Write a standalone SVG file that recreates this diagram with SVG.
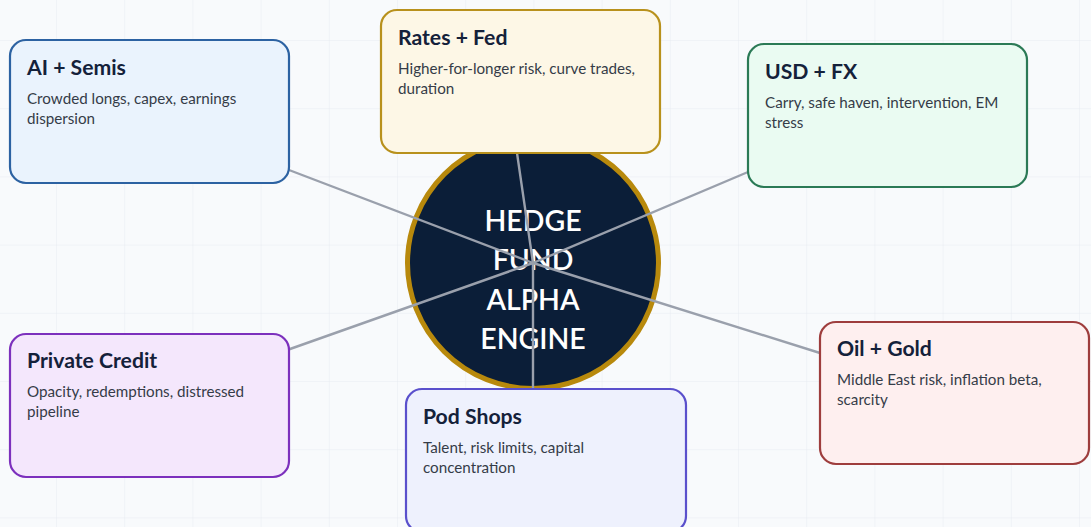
<svg xmlns="http://www.w3.org/2000/svg" width="1091" height="527" viewBox="0 0 1091 527">
  <defs>
    <pattern id="grid" x="-12.2" y="-28.2" width="68.2" height="68.2" patternUnits="userSpaceOnUse">
      <path d="M 0 0 H 68.2 M 0 0 V 68.2" fill="none" stroke="#e7ebf1" stroke-width="1"/>
    </pattern>
  </defs>
  <style>
    .card { stroke-width: 2.2; }
    .title { font-family: Lato, "Open Sans", sans-serif; font-weight: 700; font-size: 21.2px; fill: #14213a; }
    .desc { font-family: Lato, "Open Sans", sans-serif; font-size: 15.2px; fill: #353c48; }
    .hub-text { font-family: Lato, "Open Sans", sans-serif; font-weight: 600; font-size: 28.5px; fill: #ffffff; text-anchor: middle; }
    .link { stroke: #9aa0ac; stroke-width: 2.4; fill: none; stroke-linecap: round; }
  </style>

  <!-- canvas -->
  <rect width="1091" height="527" fill="#f8fafc"/>
  <rect width="1091" height="527" fill="url(#grid)"/>

  <!-- hub -->
  <g id="hub">
    <circle cx="533" cy="263" r="125.5" fill="#0b1e38" stroke="#b8890c" stroke-width="5"/>
    <text class="hub-text" x="533" y="231">HEDGE</text>
    <text class="hub-text" x="533" y="270">FUND</text>
    <text class="hub-text" x="533" y="310">ALPHA</text>
    <text class="hub-text" x="533" y="349">ENGINE</text>
  </g>

  <!-- spokes -->
  <g id="connectors">
    <line class="link" x1="533" y1="263" x2="289" y2="170"/>
    <line class="link" x1="533" y1="263" x2="517" y2="153"/>
    <line class="link" x1="533" y1="263" x2="748" y2="172"/>
    <line class="link" x1="533" y1="263" x2="820" y2="353"/>
    <line class="link" x1="533" y1="263" x2="290" y2="349"/>
    <line class="link" x1="533" y1="263" x2="533" y2="390"/>
  </g>

  <g id="ai-semis">
    <rect class="card" x="10" y="40" width="279" height="143" rx="16" fill="#eaf3fd" stroke="#2c62a2"/>
    <text class="title" x="27" y="75">AI + Semis</text>
    <text class="desc" x="27" y="104">Crowded longs, capex, earnings</text>
    <text class="desc" x="27" y="123.5">dispersion</text>
  </g>

  <g id="rates-fed">
    <rect class="card" x="381" y="10" width="279" height="143" rx="16" fill="#fdf7e6" stroke="#b8911c"/>
    <text class="title" x="398" y="45">Rates + Fed</text>
    <text class="desc" x="398" y="74">Higher-for-longer risk, curve trades,</text>
    <text class="desc" x="398" y="93.5">duration</text>
  </g>

  <g id="usd-fx">
    <rect class="card" x="748" y="44" width="279" height="143" rx="16" fill="#eafbf2" stroke="#2b7a56"/>
    <text class="title" x="765" y="79">USD + FX</text>
    <text class="desc" x="765" y="108">Carry, safe haven, intervention, EM</text>
    <text class="desc" x="765" y="127.5">stress</text>
  </g>

  <g id="oil-gold">
    <rect class="card" x="820" y="322" width="269" height="142" rx="16" fill="#feefef" stroke="#9e3d3d"/>
    <text class="title" x="837" y="356">Oil + Gold</text>
    <text class="desc" x="837" y="385">Middle East risk, inflation beta,</text>
    <text class="desc" x="837" y="404.5">scarcity</text>
  </g>

  <g id="private-credit">
    <rect class="card" x="10" y="334" width="279" height="143" rx="16" fill="#f4e7fc" stroke="#7c30bd"/>
    <text class="title" x="27" y="368">Private Credit</text>
    <text class="desc" x="27" y="397">Opacity, redemptions, distressed</text>
    <text class="desc" x="27" y="416.5">pipeline</text>
  </g>

  <g id="pod-shops">
    <rect class="card" x="406" y="389" width="280" height="143" rx="16" fill="#eef1fd" stroke="#5a50cc"/>
    <text class="title" x="423" y="424">Pod Shops</text>
    <text class="desc" x="423" y="453">Talent, risk limits, capital</text>
    <text class="desc" x="423" y="472.5">concentration</text>
  </g>
</svg>
